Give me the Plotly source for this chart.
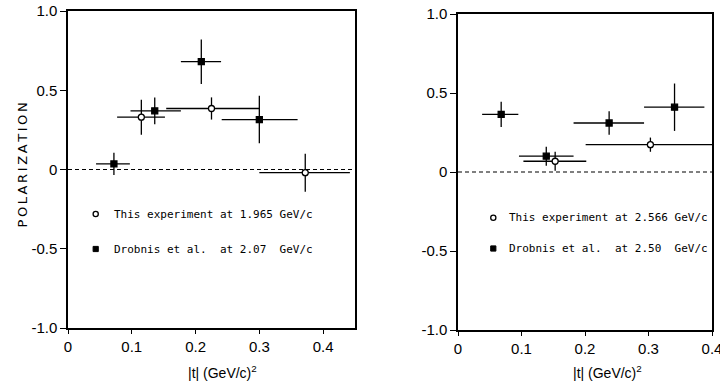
import plotly.graph_objects as go

# ---------------- data ----------------
# Left panel (1.965 GeV/c vs Drobnis 2.07 GeV/c)
L_exp_t = [0.115, 0.225, 0.372]
L_exp_tlo = [0.077, 0.154, 0.300]
L_exp_thi = [0.152, 0.300, 0.442]
L_exp_P = [0.33, 0.385, -0.02]
L_exp_err = [0.11, 0.07, 0.12]

L_dro_t = [0.072, 0.136, 0.209, 0.300]
L_dro_tlo = [0.044, 0.098, 0.177, 0.241]
L_dro_thi = [0.097, 0.177, 0.240, 0.360]
L_dro_P = [0.035, 0.37, 0.68, 0.315]
L_dro_err = [0.07, 0.085, 0.14, 0.15]

# Right panel (2.566 GeV/c vs Drobnis 2.50 GeV/c)
R_exp_t = [0.153, 0.303]
R_exp_tlo = [0.103, 0.201]
R_exp_thi = [0.202, 0.400]
R_exp_P = [0.068, 0.173]
R_exp_err = [0.06, 0.045]

R_dro_t = [0.068, 0.139, 0.238, 0.341]
R_dro_tlo = [0.038, 0.096, 0.182, 0.293]
R_dro_thi = [0.095, 0.182, 0.293, 0.388]
R_dro_P = [0.365, 0.10, 0.31, 0.41]
R_dro_err = [0.08, 0.06, 0.075, 0.15]

y_tickvals = [-1.0, -0.5, 0, 0.5, 1.0]
y_ticktext = ["-1.0", "-0.5", "0", "0.5", "1.0"]
x_tickvals = [0, 0.1, 0.2, 0.3, 0.4]
x_ticktext = ["0", "0.1", "0.2", "0.3", "0.4"]

L_exp_name = "This experiment at 1.965 GeV/c"
L_dro_name = "Drobnis et al.  at 2.07  GeV/c"
R_exp_name = "This experiment at 2.566 GeV/c"
R_dro_name = "Drobnis et al.  at 2.50  GeV/c"

# ---------------- figure ----------------
W, H = 720, 383
fig = go.Figure()

def series(t, tlo, thi, P, err, name, symbol, xa, ya):
    return go.Scatter(
        x=t, y=P, mode="markers", name=name, showlegend=False,
        xaxis=xa, yaxis=ya,
        marker=dict(symbol=symbol, size=6, color="black" if symbol == "square" else "white",
                    line=dict(color="black", width=1.3)),
        error_x=dict(type="data", symmetric=False,
                     array=[h - c for h, c in zip(thi, t)],
                     arrayminus=[c - l for l, c in zip(tlo, t)],
                     color="black", thickness=1.3, width=0),
        error_y=dict(type="data", array=err, color="black", thickness=1.3, width=0),
    )

fig.add_trace(series(L_exp_t, L_exp_tlo, L_exp_thi, L_exp_P, L_exp_err, L_exp_name, "circle", "x", "y"))
fig.add_trace(series(L_dro_t, L_dro_tlo, L_dro_thi, L_dro_P, L_dro_err, L_dro_name, "square", "x", "y"))
fig.add_trace(series(R_exp_t, R_exp_tlo, R_exp_thi, R_exp_P, R_exp_err, R_exp_name, "circle", "x2", "y2"))
fig.add_trace(series(R_dro_t, R_dro_tlo, R_dro_thi, R_dro_P, R_dro_err, R_dro_name, "square", "x2", "y2"))

tickfont = dict(family="Liberation Sans, Arial, sans-serif", size=15, color="black")

def xaxis(domain, anchor, rng):
    return dict(domain=domain, anchor=anchor, range=rng, tickvals=x_tickvals, ticktext=x_ticktext,
                showline=True, mirror=True, linecolor="black", linewidth=1.5,
                ticks="outside", ticklen=4, tickwidth=1.3, tickcolor="black",
                ticklabelstandoff=0, ticklabeloverflow="allow",
                showgrid=False, zeroline=False, tickfont=tickfont, automargin=False)

def yaxis(domain, anchor):
    return dict(domain=domain, anchor=anchor, range=[-1.0, 1.0], tickvals=y_tickvals, ticktext=y_ticktext,
                showline=True, mirror=True, linecolor="black", linewidth=1.5,
                ticks="outside", ticklen=6, tickwidth=1.3, tickcolor="black",
                ticklabeloverflow="allow",
                showgrid=False, zeroline=False, tickfont=tickfont, automargin=False)

fig.update_layout(
    width=W, height=H,
    margin=dict(l=0, r=0, t=0, b=0),
    paper_bgcolor="white", plot_bgcolor="white",
    showlegend=False,
    xaxis=xaxis([68 / W, 355 / W], "y", [0, 0.45]),
    yaxis=yaxis([(H - 328) / H, (H - 11) / H], "x"),
    xaxis2=xaxis([458 / W, 712 / W], "y2", [0, 0.4]),
    yaxis2=yaxis([(H - 330) / H, (H - 14) / H], "x2"),
)

# zero dashed line in each panel
for xr, yr in (("x", "y"), ("x2", "y2")):
    fig.add_shape(type="line", xref=xr + " domain", yref=yr, x0=0, x1=1, y0=0, y1=0,
                  line=dict(color="black", width=1.2, dash="4px,3px"), layer="below")

# in-panel key (legend) : symbol + label
legfont = dict(family="DejaVu Sans Mono, monospace", size=11, color="black")
keys = [
    (95.7, 214, 111.7, "circle", L_exp_name),
    (95.7, 249, 111.7, "square", L_dro_name),
    (493.3, 217.7, 506.7, "circle", R_exp_name),
    (493.3, 248.5, 506.7, "square", R_dro_name),
]
r = 2.6
for sx, sy, tx, sym, label in keys:
    shp = dict(xref="paper", yref="paper",
               x0=(sx - r) / W, x1=(sx + r) / W, y0=(H - sy - r) / H, y1=(H - sy + r) / H)
    if sym == "circle":
        fig.add_shape(type="circle", line=dict(color="black", width=1.3), fillcolor="white", **shp)
    else:
        fig.add_shape(type="rect", line=dict(color="black", width=1), fillcolor="black", **shp)
    fig.add_annotation(text=label, xref="paper", yref="paper", x=tx / W, y=(H - sy) / H,
                       xanchor="left", yanchor="middle", showarrow=False, font=legfont)

# axis titles
titlefont = dict(family="Liberation Sans, Arial, sans-serif", size=14, color="black")
for cx in (222, 607):
    fig.add_annotation(text="|t| (GeV/c)<sup>2</sup>", xref="paper", yref="paper",
                       x=cx / W, y=0, xanchor="center", yanchor="bottom",
                       showarrow=False, font=titlefont)
fig.add_annotation(text="\u2009".join("POLARIZATION"), xref="paper", yref="paper",
                   x=12.5 / W, y=(H - 165.5) / H, showarrow=False, textangle=-90,
                   font=dict(family="DejaVu Sans, sans-serif", size=13, color="black"))

fig.write_html("out.html", config={"displayModeBar": False},
               post_script="document.body.style.margin='0px';")
